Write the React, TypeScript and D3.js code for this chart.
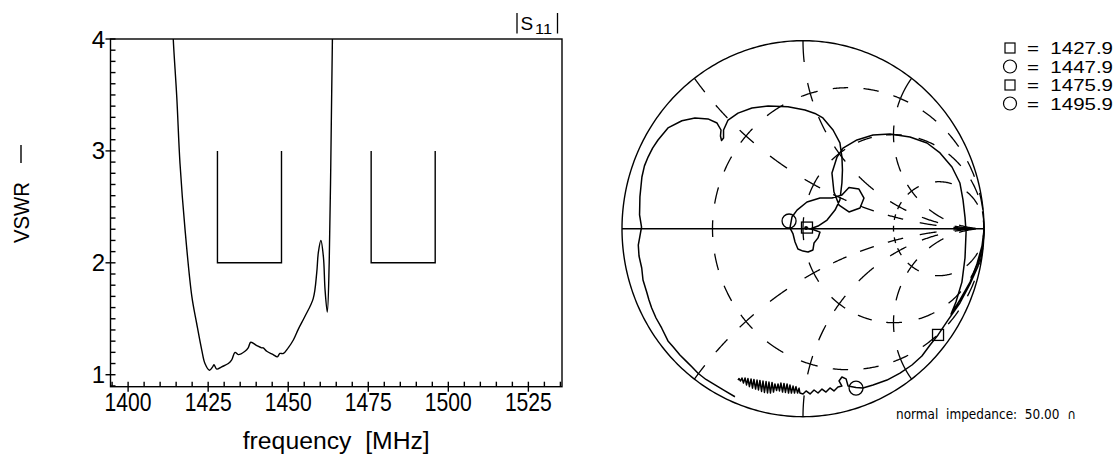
import React, { useRef, useEffect } from 'react';
import * as d3 from 'd3';

// VSWR sweep (left panel)
const vswrFreq = [1413.9, 1414.1, 1415.2, 1416.2, 1417.8, 1419.9, 1421.4, 1423.0, 1424.0, 1425.4, 1426.4, 1426.8,
  1427.7, 1429.2, 1431.3, 1432.3, 1433.4, 1434.4, 1436.5, 1437.5, 1438.3, 1440.2, 1441.7, 1442.2, 1443.3, 1445.3,
  1446.6, 1447.4, 1448.5, 1450.0, 1451.6, 1453.2, 1455.2, 1457.8, 1458.9, 1459.4, 1460.2, 1461.0, 1461.5, 1462.2,
  1462.8, 1463.3, 1463.8, 1464.0];
const vswrValue = [4.2, 4.0, 3.48, 2.89, 2.29, 1.70, 1.46, 1.22, 1.10, 1.04, 1.07, 1.09,
  1.05, 1.07, 1.10, 1.13, 1.20, 1.18, 1.21, 1.24, 1.29, 1.26, 1.24, 1.24, 1.21, 1.18,
  1.16, 1.19, 1.19, 1.24, 1.31, 1.41, 1.52, 1.68, 1.91, 2.09, 2.20, 2.05, 1.76, 1.56,
  2.00, 2.89, 4.0, 4.2];

// spec mask: bands with lower limit 2, side walls up to 3
const maskBands = [[1427.9, 1447.9], [1475.9, 1495.9]];
const maskLimits = [2, 3];

const xTickLabels = [1400, 1425, 1450, 1475, 1500, 1525];
const yTickLabels = [1, 2, 3, 4];

// reflection coefficient trace (Smith chart), real / imag
const smithRe = [-0.376, -0.431, -0.486, -0.536, -0.580, -0.613, -0.643, -0.680, -0.718, -0.746, -0.781, -0.812,
  -0.836, -0.851, -0.864, -0.884, -0.891, -0.906, -0.910, -0.901, -0.892, -0.903, -0.901, -0.895, -0.890, -0.876,
  -0.856, -0.831, -0.801, -0.746, -0.669, -0.597, -0.525, -0.475, -0.453, -0.456, -0.450, -0.439, -0.439, -0.414,
  -0.359, -0.282, -0.193, -0.083, 0.011, 0.066, 0.110, 0.166, 0.204, 0.215, 0.218, 0.215, 0.204, 0.177, 0.133,
  0.083, 0.039, 0.017, 0.055, 0.094, 0.083, 0.061, 0.055, 0.028, 0.0, -0.028, -0.044, -0.055, -0.072, -0.061,
  -0.033, 0.022, 0.094, 0.160, 0.215, 0.254, 0.309, 0.337, 0.315, 0.254, 0.199, 0.171, 0.160, 0.188, 0.221,
  0.298, 0.387, 0.481, 0.591, 0.685, 0.757, 0.823, 0.867, 0.884, 0.895, 0.901, 0.895, 0.878, 0.845, 0.818,
  0.867, 0.923, 0.961, 0.989, 1.0, 0.994, 0.967, 0.923, 0.867, 0.801, 0.746, 0.702, 0.657, 0.602, 0.536,
  0.464, 0.387, 0.331, 0.293, 0.249, 0.238, 0.215, 0.199, 0.215, 0.193, 0.171, 0.149, 0.127, 0.105, 0.083,
  0.061, 0.039, 0.017, 0.0,
  -0.017, -0.022, -0.030, -0.039, -0.047, -0.055, -0.064, -0.072, -0.080, -0.088, -0.097, -0.105, -0.113, -0.122,
  -0.130, -0.138, -0.146, -0.155, -0.163, -0.171, -0.180, -0.188, -0.196, -0.204, -0.213, -0.221, -0.229, -0.238,
  -0.246, -0.254, -0.262, -0.271, -0.279, -0.287, -0.296, -0.304, -0.312, -0.320, -0.329, -0.337, -0.345, -0.354,
  -0.359];
const smithIm = [-0.894, -0.863, -0.831, -0.802, -0.769, -0.736, -0.707, -0.672, -0.628, -0.597, -0.528, -0.475,
  -0.422, -0.379, -0.335, -0.273, -0.209, -0.145, -0.087, -0.039, 0.009, 0.073, 0.169, 0.227, 0.275, 0.334,
  0.381, 0.429, 0.472, 0.536, 0.574, 0.589, 0.584, 0.562, 0.525, 0.493, 0.469, 0.482, 0.525, 0.578,
  0.615, 0.642, 0.653, 0.649, 0.631, 0.613, 0.589, 0.525, 0.456, 0.381, 0.312, 0.243, 0.153, 0.099, 0.046,
  0.014, -0.002, 0.004, -0.004, -0.018, -0.049, -0.076, -0.113, -0.124, -0.119, -0.108, -0.071, -0.028, 0.004, 0.062,
  0.099, 0.142, 0.163, 0.163, 0.179, 0.219, 0.211, 0.163, 0.110, 0.089, 0.126, 0.195, 0.296, 0.381, 0.429,
  0.472, 0.498, 0.504, 0.488, 0.456, 0.403, 0.328, 0.243, 0.153, 0.062, -0.018, -0.156, -0.284, -0.390, -0.454,
  -0.379, -0.284, -0.188, -0.092, -0.007, -0.087, -0.199, -0.294, -0.395, -0.486, -0.565, -0.619, -0.677, -0.725, -0.768,
  -0.805, -0.831, -0.847, -0.845, -0.837, -0.799, -0.789, -0.810, -0.837, -0.842, -0.863, -0.847, -0.869, -0.853, -0.874,
  -0.858, -0.879, -0.863, -0.879,
  -0.874, -0.848, -0.874, -0.840, -0.874, -0.837, -0.874, -0.831, -0.874, -0.826, -0.871, -0.823, -0.869, -0.821,
  -0.863, -0.826, -0.861, -0.826, -0.869, -0.818, -0.874, -0.816, -0.874, -0.813, -0.871, -0.810, -0.866, -0.807,
  -0.858, -0.805, -0.853, -0.802, -0.848, -0.799, -0.840, -0.797, -0.831, -0.794, -0.821, -0.794, -0.810, -0.797,
  -0.805];

const markerFreq = [1427.9, 1447.9, 1475.9, 1495.9];
const markerShape = ['square', 'circle', 'square', 'circle'];
const markerRe = [0.022, -0.077, 0.746, 0.293];
const markerIm = [0.006, 0.041, -0.565, -0.848];
const centerDot = [0.017, 0.004];

// Smith grid values
const gridR = [1 / 3, 1, 3];
const gridX = [0.5, 1, 2];

const FONT = 'Liberation Sans, Arial, sans-serif';

type Sel = d3.Selection<SVGSVGElement, unknown, null, undefined>;

function drawVswr(svg: Sel) {
  const left = 110.5, right = 562, top = 39, bottom = 386.7;
  const x = d3.scaleLinear().domain([1394.5, 1535.5]).range([left, right]);
  const y = d3.scaleLinear().domain([0.893, 4]).range([bottom, top]);

  const g = svg.append('g');
  g.append('clipPath').attr('id', 'vclip')
    .append('rect').attr('x', left).attr('y', top).attr('width', right - left).attr('height', bottom - top);

  g.append('rect')
    .attr('x', left).attr('y', top).attr('width', right - left).attr('height', bottom - top)
    .attr('fill', 'none').attr('stroke', '#000').attr('stroke-width', 1.4);

  // y ticks every 0.1
  d3.range(9, 41).forEach(i => {
    const major = i % 10 === 0;
    g.append('line')
      .attr('x1', major ? left - 5 : left).attr('x2', left + 5)
      .attr('y1', y(i / 10)).attr('y2', y(i / 10))
      .attr('stroke', '#000').attr('stroke-width', 1.4);
  });
  // x ticks every 5 MHz
  d3.range(1395, 1536, 5).forEach(f => {
    const major = f % 25 === 0;
    g.append('line')
      .attr('x1', x(f)).attr('x2', x(f))
      .attr('y1', bottom - 5).attr('y2', major ? bottom + 5 : bottom)
      .attr('stroke', '#000').attr('stroke-width', 1.4);
  });

  yTickLabels.forEach(v => {
    g.append('text').attr('x', 105).attr('y', y(v) + 8.5)
      .attr('text-anchor', 'end').attr('font-family', FONT).attr('font-size', 24)
      .text(v);
  });
  xTickLabels.forEach(v => {
    g.append('text').attr('x', x(v)).attr('y', 411)
      .attr('text-anchor', 'middle').attr('font-family', FONT).attr('font-size', 25)
      .attr('textLength', 47).attr('lengthAdjust', 'spacingAndGlyphs')
      .text(v);
  });

  // mask
  maskBands.forEach(([a, b]) => {
    const p = d3.path();
    p.moveTo(x(a), y(maskLimits[1]));
    p.lineTo(x(a), y(maskLimits[0]));
    p.lineTo(x(b), y(maskLimits[0]));
    p.lineTo(x(b), y(maskLimits[1]));
    g.append('path').attr('d', p.toString()).attr('fill', 'none')
      .attr('stroke', '#000').attr('stroke-width', 1.4);
  });

  const line = d3.line<number>().x((_, i) => x(vswrFreq[i])).y(d => y(d)).curve(d3.curveCatmullRom.alpha(0.5));
  g.append('path').attr('d', line(vswrValue))
    .attr('clip-path', 'url(#vclip)')
    .attr('fill', 'none').attr('stroke', '#000').attr('stroke-width', 1.4);

  g.append('text').attr('x', (left + right) / 2).attr('y', 448.5)
    .attr('text-anchor', 'middle').attr('font-family', FONT).attr('font-size', 23)
    .attr('textLength', 187).attr('lengthAdjust', 'spacingAndGlyphs')
    .style('white-space', 'pre')
    .text('frequency  [MHz]');

  // rotated y label
  g.append('text').attr('transform', 'translate(29,212.5) rotate(-90)')
    .attr('text-anchor', 'middle').attr('font-family', FONT).attr('font-size', 22)
    .attr('textLength', 61).attr('lengthAdjust', 'spacingAndGlyphs')
    .text('VSWR');
  g.append('line').attr('x1', 21).attr('x2', 21).attr('y1', 145).attr('y2', 163)
    .attr('stroke', '#000').attr('stroke-width', 1.4);

  // |S11| caption
  g.append('line').attr('x1', 517).attr('x2', 517).attr('y1', 13).attr('y2', 33.5)
    .attr('stroke', '#000').attr('stroke-width', 1.3);
  g.append('line').attr('x1', 557.5).attr('x2', 557.5).attr('y1', 13).attr('y2', 33.5)
    .attr('stroke', '#000').attr('stroke-width', 1.3);
  g.append('text').attr('x', 520.5).attr('y', 30).attr('font-family', FONT).attr('font-size', 19).text('S');
  g.append('text').attr('x', 535).attr('y', 33.5).attr('font-family', FONT).attr('font-size', 14)
    .attr('textLength', 17).attr('lengthAdjust', 'spacingAndGlyphs').text('11');
}

function drawSmith(svg: Sel) {
  const cx = 803, cy = 228.7, rx = 181, ry = 188;
  const sx = d3.scaleLinear().domain([-1, 1]).range([cx - rx, cx + rx]);
  const sy = d3.scaleLinear().domain([-1, 1]).range([cy + ry, cy - ry]);
  const g = svg.append('g');
  const line = d3.line<[number, number]>().x(d => sx(d[0])).y(d => sy(d[1]));

  // z -> gamma
  const gam = (r: number, xx: number): [number, number] => {
    const den = (r + 1) * (r + 1) + xx * xx;
    return [(r * r - 1 + xx * xx) / den, (2 * xx) / den];
  };
  const pxLen = (pts: [number, number][]) => {
    let L = 0;
    for (let i = 1; i < pts.length; i++) {
      L += Math.hypot(sx(pts[i][0]) - sx(pts[i - 1][0]), sy(pts[i][1]) - sy(pts[i - 1][1]));
    }
    return L;
  };
  const P0 = 34;
  // draw one dashed piece; start: 'full' | 'half', end: 'half' | 'free'
  const piece = (pts: [number, number][], start: string, end: string) => {
    const L = pxLen(pts);
    let p = P0, off = 0;
    if (start === 'half' && end === 'half') {
      const n = Math.max(1, Math.round(L / P0));
      p = L / n; off = p / 4;
    } else if (start === 'full' && end === 'half') {
      const n = Math.max(0, Math.round(L / P0 - 0.25));
      p = L / (n + 0.25); off = 0;
    } else if (start === 'half') {
      off = p / 4;
    }
    g.append('path').attr('d', line(pts)).attr('fill', 'none')
      .attr('stroke', '#000').attr('stroke-width', 1.3)
      .attr('stroke-dasharray', `${p / 2},${p / 2}`).attr('stroke-dashoffset', off);
  };
  const sample = (t0: number, t1: number, f: (t: number) => [number, number]) => {
    const a0 = Math.atan(t0), a1 = Math.atan(t1);
    return d3.range(0, 121).map(k => f(Math.tan(a0 + (a1 - a0) * k / 120)));
  };

  // outer circle and real axis
  const outer = d3.range(0, 361).map(a => [Math.cos(a * Math.PI / 180), Math.sin(a * Math.PI / 180)] as [number, number]);
  g.append('path').attr('d', line(outer)).attr('fill', 'none').attr('stroke', '#000').attr('stroke-width', 1.4);
  g.append('line').attr('x1', sx(-1)).attr('x2', sx(1)).attr('y1', sy(0)).attr('y2', sy(0))
    .attr('stroke', '#000').attr('stroke-width', 1.4);

  // resistance circles, broken at reactance intersections
  const xBreaks = [-2, -1, -0.5, 0, 0.5, 1, 2];
  gridR.forEach(r => {
    const big = 1e4;
    piece(sample(xBreaks[0], -big, t => gam(r, t)), 'half', 'free');
    for (let i = 0; i < xBreaks.length - 1; i++) {
      piece(sample(xBreaks[i], xBreaks[i + 1], t => gam(r, t)), 'half', 'half');
    }
    piece(sample(xBreaks[xBreaks.length - 1], big, t => gam(r, t)), 'half', 'free');
  });

  // reactance arcs, broken at resistance intersections
  const rBreaks = [0, ...gridR];
  gridX.forEach(xv => {
    [xv, -xv].forEach(xx => {
      piece(sample(rBreaks[0], rBreaks[1], t => gam(t, xx)), 'full', 'half');
      for (let i = 1; i < rBreaks.length - 1; i++) {
        piece(sample(rBreaks[i], rBreaks[i + 1], t => gam(t, xx)), 'half', 'half');
      }
      piece(sample(rBreaks[rBreaks.length - 1], 1e4, t => gam(t, xx)), 'half', 'free');
    });
  });

  // trace
  const tracePts = smithRe.map((re, i) => [re, smithIm[i]] as [number, number]);
  g.append('path').attr('d', line(tracePts)).attr('fill', 'none')
    .attr('stroke', '#000').attr('stroke-width', 1.5).attr('stroke-linejoin', 'round');

  // markers
  markerFreq.forEach((f, i) => {
    const mx = sx(markerRe[i]), my = sy(markerIm[i]);
    if (markerShape[i] === 'square') {
      g.append('rect').attr('x', mx - 5.5).attr('y', my - 5.5).attr('width', 11).attr('height', 11)
        .attr('fill', 'none').attr('stroke', '#000').attr('stroke-width', 1.3);
    } else {
      g.append('circle').attr('cx', mx).attr('cy', my).attr('r', 7)
        .attr('fill', 'none').attr('stroke', '#000').attr('stroke-width', 1.3);
    }
  });
  g.append('circle').attr('cx', sx(centerDot[0])).attr('cy', sy(centerDot[1])).attr('r', 2).attr('fill', '#000');

  // legend
  const rowY = [48, 66.5, 85, 103.5];
  markerFreq.forEach((f, i) => {
    const yy = rowY[i];
    if (markerShape[i] === 'square') {
      g.append('rect').attr('x', 1005).attr('y', yy - 5).attr('width', 10).attr('height', 10)
        .attr('fill', 'none').attr('stroke', '#000').attr('stroke-width', 1.2);
    } else {
      g.append('circle').attr('cx', 1010).attr('cy', yy).attr('r', 6.5)
        .attr('fill', 'none').attr('stroke', '#000').attr('stroke-width', 1.2);
    }
    g.append('text').attr('x', 1027).attr('y', yy + 6)
      .attr('font-family', FONT).attr('font-size', 16)
      .attr('textLength', 86).attr('lengthAdjust', 'spacingAndGlyphs')
      .style('white-space', 'pre')
      .text(`=  ${f.toFixed(1)}`);
  });

  g.append('text').attr('x', 896).attr('y', 418.5)
    .attr('font-family', 'DejaVu Sans, sans-serif').attr('font-size', 14)
    .attr('textLength', 180).attr('lengthAdjust', 'spacingAndGlyphs')
    .style('white-space', 'pre')
    .text('normal  impedance:  50.00  \u2229');
}

export default function App() {
  const ref = useRef<SVGSVGElement>(null);

  useEffect(() => {
    const svg = d3.select(ref.current as SVGSVGElement) as unknown as Sel;
    svg.selectAll('*').remove();
    drawVswr(svg);
    drawSmith(svg);
  }, []);

  return (
    <svg ref={ref} width={1119} height={460}
      style={{ position: 'absolute', left: 0, top: 0, background: '#fff' }} />
  );
}
